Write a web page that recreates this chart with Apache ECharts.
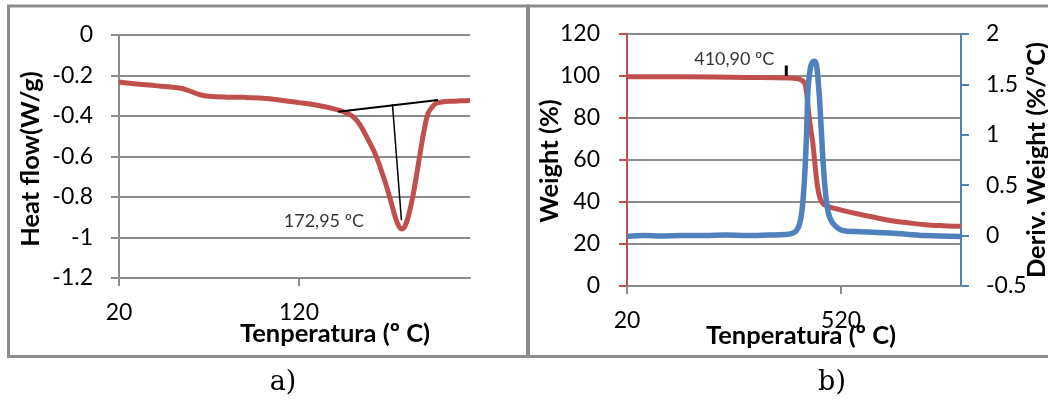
<!DOCTYPE html>
<html><head><meta charset="utf-8">
<script src="https://cdn.jsdelivr.net/npm/echarts@6/dist/echarts.min.js"></script>
<style>html,body{margin:0;padding:0;background:#fff}#c{width:1048px;height:403px}</style>
</head><body><div id="c"></div>
<script>
// ---- Panel a) DSC ----
const dscTemp = [20, 30, 40, 50, 55, 60, 65, 70, 80, 90, 100, 110, 120, 130, 140, 145, 150, 154, 158, 162, 165, 168, 171, 173.5, 175.5, 177.2, 178.8, 180.6, 183.4, 187, 189.5, 191.7, 194, 196.3, 200, 205, 210, 215];
const dscHeat = [-0.232, -0.242, -0.25, -0.258, -0.264, -0.279, -0.295, -0.303, -0.307, -0.308, -0.312, -0.322, -0.334, -0.347, -0.366, -0.38, -0.403, -0.445, -0.51, -0.58, -0.65, -0.73, -0.82, -0.9, -0.945, -0.958, -0.945, -0.9, -0.79, -0.6, -0.47, -0.387, -0.355, -0.337, -0.33, -0.327, -0.325, -0.323];
const tangentTemp = [141.7, 197.3];
const tangentHeat = [-0.379, -0.321];
const peakLineTemp = [171.9, 176.9];
const peakLineHeat = [-0.341, -0.914];
const dscLabelPos = [133.8, -0.921];
const dscLabelText = '172,95 ºC';
const dscXTicks = [20, 120];

// ---- Panel b) TGA ----
const tgaTemp = [20, 150, 300, 400, 425, 435, 440, 444, 449, 454, 458, 462, 466, 471, 477, 483, 500, 557, 600, 635, 680, 715, 760, 800];
const tgaWeight = [99.7, 99.6, 99.3, 99.0, 98.3, 96.5, 91, 83, 75, 68, 60, 52, 46, 41.6, 39.4, 38.4, 37.2, 34.4, 32.6, 31.2, 30, 29.2, 28.7, 28.4];
const dtgTemp = [20, 60, 100, 150, 200, 250, 300, 350, 390, 410, 420, 426, 430, 435, 439.3, 443, 448.6, 453, 458, 463, 467, 470, 476.5, 482.6, 490, 502, 525, 557, 635, 715, 800];
const dtgDeriv = [-0.01, 0.0, -0.005, 0.0, 0.0, 0.005, 0.0, 0.005, 0.01, 0.03, 0.08, 0.17, 0.3, 0.6, 1.0, 1.47, 1.67, 1.72, 1.73, 1.68, 1.5, 1.34, 0.83, 0.47, 0.23, 0.115, 0.05, 0.04, 0.026, 0.0, -0.01];
const onsetTickTemp = [392, 392];
const onsetTickWeight = [100.1, 105];
const tgaLabelPos = [270.5, 108];
const tgaLabelText = '410,90 ºC';
const tgaXTicks = [20, 520];

const RED = '#C0504D', BLUE = '#4F81BD', GREY = '#8c8c8c';
const FONT = 'Lato';
const zip = (a, b) => a.map((v, i) => [v, b[i]]);

const chart = echarts.init(document.getElementById('c'), null, {renderer: 'canvas'});

const labelStyle = {color: '#000', fontFamily: FONT, fontSize: 23};
const titleStyle = {fontFamily: FONT, fontWeight: 'bold', fontSize: 25.5, fill: '#000', textAlign: 'center', textVerticalAlign: 'middle'};

function xAxisCfg(gi, min, max, ticks) {
  return {
    type: 'value', gridIndex: gi, min: min, max: max,
    axisLine: {show: true, onZero: false, lineStyle: {color: GREY, width: 2}},
    axisTick: {show: true, customValues: ticks, length: 8, lineStyle: {color: GREY, width: 2}},
    axisLabel: Object.assign({customValues: ticks, margin: 23}, labelStyle),
    splitLine: {show: false}
  };
}

const option = {
  animation: false,
  backgroundColor: '#fff',
  grid: [
    {left: 119, top: 35, width: 351, height: 243},
    {left: 627, top: 34, width: 334, height: 252}
  ],
  xAxis: [
    xAxisCfg(0, 20, 215, dscXTicks),
    xAxisCfg(1, 20, 800, tgaXTicks)
  ],
  yAxis: [
    {
      type: 'value', gridIndex: 0, min: -1.2, max: 0, interval: 0.2,
      axisLine: {show: true, onZero: false, lineStyle: {color: GREY, width: 2}},
      axisTick: {show: true, length: 8, lineStyle: {color: GREY, width: 2}},
      axisLabel: Object.assign({margin: 26}, labelStyle),
      splitLine: {show: true, lineStyle: {color: GREY, width: 2}}
    },
    {
      type: 'value', gridIndex: 1, min: 0, max: 120, interval: 20, position: 'left',
      axisLine: {show: true, onZero: false, lineStyle: {color: RED, width: 2}},
      axisTick: {show: true, length: 8, lineStyle: {color: RED, width: 2}},
      axisLabel: Object.assign({margin: 27}, labelStyle),
      splitLine: {show: true, lineStyle: {color: GREY, width: 2}}
    },
    {
      type: 'value', gridIndex: 1, min: -0.5, max: 2, interval: 0.5, position: 'right',
      axisLine: {show: true, onZero: false, lineStyle: {color: BLUE, width: 2}},
      axisTick: {show: true, length: 8, lineStyle: {color: BLUE, width: 2}},
      axisLabel: Object.assign({margin: 25}, labelStyle),
      splitLine: {show: false}
    }
  ],
  series: [
    {
      type: 'line', xAxisIndex: 0, yAxisIndex: 0, data: zip(dscTemp, dscHeat),
      smooth: 0.35, showSymbol: false, symbol: 'none',
      lineStyle: {color: RED, width: 5}, z: 3
    },
    {
      type: 'line', xAxisIndex: 0, yAxisIndex: 0, data: zip(tangentTemp, tangentHeat),
      showSymbol: false, symbol: 'none', lineStyle: {color: '#000', width: 2}, z: 4
    },
    {
      type: 'line', xAxisIndex: 0, yAxisIndex: 0, data: zip(peakLineTemp, peakLineHeat),
      showSymbol: false, symbol: 'none', lineStyle: {color: '#000', width: 1.5}, z: 4
    },
    {
      type: 'scatter', xAxisIndex: 0, yAxisIndex: 0, data: [dscLabelPos], symbolSize: 0,
      label: {show: true, position: 'inside', formatter: dscLabelText, color: '#000', fontFamily: FONT, fontSize: 18}, z: 5
    },
    {
      type: 'line', xAxisIndex: 1, yAxisIndex: 1, data: zip(tgaTemp, tgaWeight),
      smooth: 0.35, showSymbol: false, symbol: 'none',
      lineStyle: {color: RED, width: 5}, z: 3
    },
    {
      type: 'line', xAxisIndex: 1, yAxisIndex: 2, data: zip(dtgTemp, dtgDeriv),
      smooth: 0.35, showSymbol: false, symbol: 'none',
      lineStyle: {color: BLUE, width: 5.5}, z: 4
    },
    {
      type: 'line', xAxisIndex: 1, yAxisIndex: 1, data: zip(onsetTickTemp, onsetTickWeight),
      showSymbol: false, symbol: 'none', lineStyle: {color: '#000', width: 3}, z: 5
    },
    {
      type: 'scatter', xAxisIndex: 1, yAxisIndex: 1, data: [tgaLabelPos], symbolSize: 0,
      label: {show: true, position: 'inside', formatter: tgaLabelText, color: '#000', fontFamily: FONT, fontSize: 18}, z: 5
    }
  ],
  graphic: [
    {type: 'rect', shape: {x: 8.5, y: 6, width: 519, height: 350.5}, style: {fill: 'none', stroke: GREY, lineWidth: 3}, z: 0},
    {type: 'rect', shape: {x: 528.5, y: 6, width: 540, height: 350.5}, style: {fill: 'none', stroke: GREY, lineWidth: 3}, z: 0},
    {type: 'text', x: 335, y: 334, style: Object.assign({text: 'Tenperatura (º C)'}, titleStyle), z: 10},
    {type: 'text', x: 801, y: 336, style: Object.assign({text: 'Tenperatura (º C)'}, titleStyle), z: 10},
    {type: 'text', x: 31, y: 159, rotation: Math.PI / 2, style: Object.assign({text: 'Heat flow(W/g)'}, titleStyle), z: 10},
    {type: 'text', x: 550, y: 161, rotation: Math.PI / 2, style: Object.assign({text: 'Weight (%)'}, titleStyle), z: 10},
    {type: 'text', x: 1037, y: 160, rotation: Math.PI / 2, style: Object.assign({text: 'Deriv. Weight (%/ºC)'}, titleStyle), z: 10},
    {type: 'text', x: 283, y: 383, style: {text: 'a)', fontFamily: 'DejaVu Serif', fontSize: 27, fill: '#000', textAlign: 'center', textVerticalAlign: 'middle'}, z: 10},
    {type: 'text', x: 832, y: 383, style: {text: 'b)', fontFamily: 'DejaVu Serif', fontSize: 27, fill: '#000', textAlign: 'center', textVerticalAlign: 'middle'}, z: 10}
  ]
};
chart.setOption(option);
</script>
</body></html>
